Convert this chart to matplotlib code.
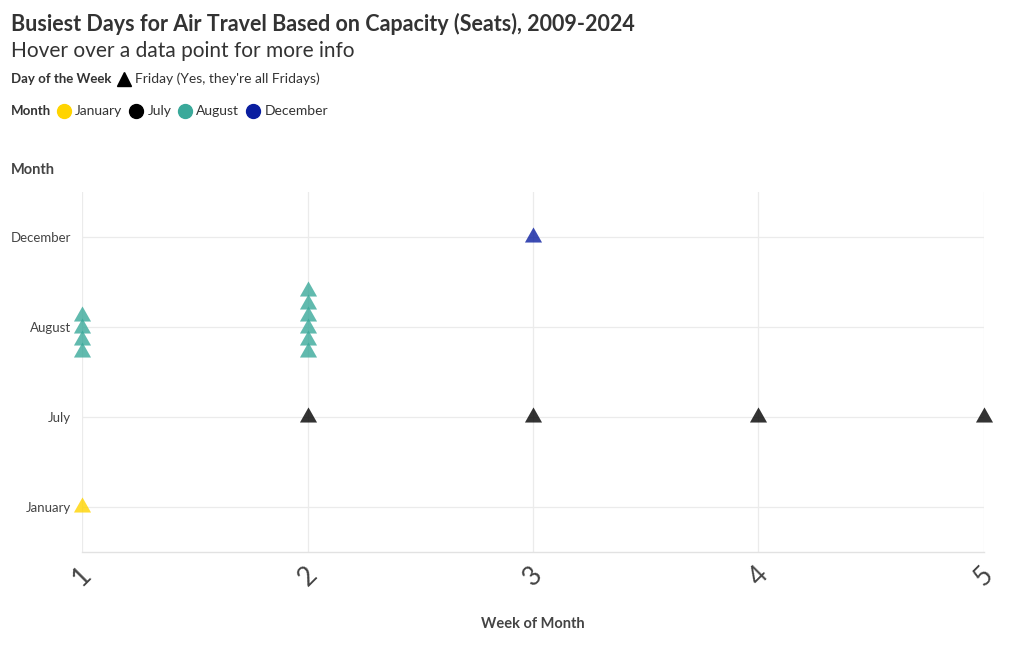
import matplotlib
matplotlib.use("Agg")
import matplotlib.pyplot as plt
from matplotlib.lines import Line2D

# categories on the y axis, bottom to top
months = ["January", "July", "August", "December"]
month_colors = ["#FFD400", "#000000", "#3AA99A", "#0A1EA0"]

# one entry per busiest day (all Fridays)
point_month = ["January",
               "August", "August", "August", "August",
               "August", "August", "August", "August", "August", "August",
               "July", "July", "July", "July",
               "December"]
point_week = [1,
              1, 1, 1, 1,
              2, 2, 2, 2, 2, 2,
              2, 3, 4, 5,
              3]
# stacking offset inside the month band (several days share a cell)
point_offset = [0.0,
                -0.28, -0.145, -0.01, 0.125,
                -0.28, -0.145, -0.01, 0.125, 0.26, 0.395,
                0.0, 0.0, 0.0, 0.0,
                0.0]

week_ticks = [1, 2, 3, 4, 5]

FONT = "Lato"
TXT = "#333333"
TXT2 = "#444444"
GRID = "#EBEBEB"

plt.rcParams["font.family"] = [FONT, "DejaVu Sans"]

fig = plt.figure(figsize=(10.2, 6.5), dpi=100)
W, H = 1020, 650
ax = fig.add_axes([82 / W, 1 - 552 / H, (984 - 82) / W, (552 - 192) / H])

# plotly-like triangle, point sits a little below the visual center
tri = [(0, 1), (-0.85, -0.5), (0.85, -0.5)]

for m, c in zip(months, month_colors):
    idx = [i for i, pm in enumerate(point_month) if pm == m]
    xs = [point_week[i] for i in idx]
    ys = [months.index(m) + point_offset[i] for i in idx]
    ax.plot(xs, ys, linestyle="none", marker=tri, markersize=14.5,
            color=c, alpha=0.8, markeredgewidth=0, clip_on=False, zorder=3)

ax.set_xlim(1, 5)
ax.set_ylim(-0.5, 3.5)
ax.set_xticks(week_ticks)
ax.set_xticklabels([str(w) for w in week_ticks], rotation=45, fontsize=19,
                   color=TXT2, ha="center", va="top")
ax.set_yticks(range(len(months)))
ax.set_yticklabels(months, fontsize=9.5, color=TXT2)
ax.tick_params(length=0, pad=8)
ax.tick_params(axis="x", pad=7)
ax.grid(True, color=GRID, linewidth=0.9)
ax.set_axisbelow(True)
for s in ["top", "right", "left"]:
    ax.spines[s].set_visible(False)
ax.spines["bottom"].set_color("#E2E2E2")
ax.spines["bottom"].set_linewidth(1.0)

ax.set_xlabel("Week of Month", fontsize=10.5, fontweight="bold", color=TXT2,
              labelpad=19)
fig.text(11 / W, 1 - 170 / H, "Month", fontsize=10.5, fontweight="bold",
         color=TXT2, va="center", ha="left")

# titles
fig.text(11 / W, 1 - 24 / H,
         "Busiest Days for Air Travel Based on Capacity (Seats), 2009-2024",
         fontsize=15.5, fontweight="bold", color=TXT, va="center", ha="left")
fig.text(11 / W, 1 - 51 / H, "Hover over a data point for more info",
         fontsize=15, color=TXT, va="center", ha="left")

# legends drawn by hand, left to right
renderer = fig.canvas.get_renderer()


def legend_row(y_px, title, items, marker, msize):
    x = 11
    t = fig.text(x / W, 1 - y_px / H, title, fontsize=9.5, fontweight="bold",
                 color=TXT, va="center", ha="left")
    x = t.get_window_extent(renderer).x1 + 13
    for label, color in items:
        fig.add_artist(Line2D([x / W], [1 - y_px / H], marker=marker,
                              markersize=msize, color=color, linestyle="none",
                              transform=fig.transFigure))
        t = fig.text((x + 11) / W, 1 - y_px / H, label, fontsize=10,
                     color=TXT, va="center", ha="left")
        x = t.get_window_extent(renderer).x1 + 14


legend_row(79, "Day of the Week", [("Friday (Yes, they're all Fridays)", "#000000")],
           "^", 10)
legend_row(111, "Month", list(zip(months, month_colors)), "o", 10)

fig.savefig("out.png", dpi=100, facecolor="white")
